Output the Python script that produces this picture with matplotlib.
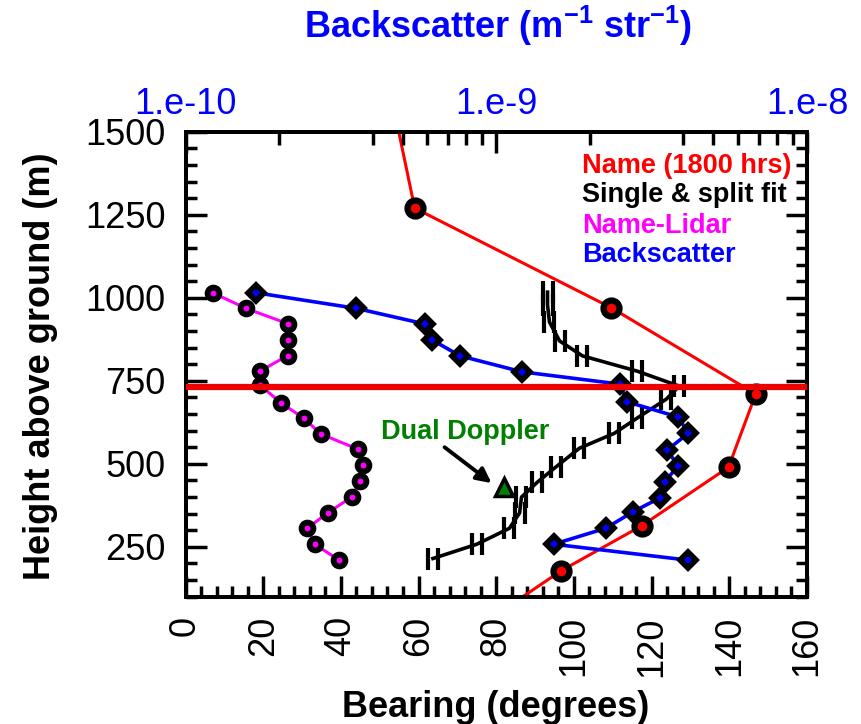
import numpy as np
import matplotlib
matplotlib.use('Agg')
import matplotlib.pyplot as plt
from matplotlib.path import Path
from matplotlib.ticker import FixedLocator, MultipleLocator, FuncFormatter, NullFormatter

plt.rcParams['font.family'] = ['Liberation Sans', 'DejaVu Sans']
plt.rcParams['mathtext.fontset'] = 'custom'
plt.rcParams['mathtext.rm'] = 'Liberation Sans'
plt.rcParams['mathtext.bf'] = 'Liberation Sans:bold'

# Name model at 1800 hrs (bearing in degrees, height in m); end points run off the axes
name_bearing = [54.0, 59.0, 109.6, 146.8, 139.8, 117.5, 96.7, 80.5]
name_height = [1550, 1270, 970, 710, 490, 314, 178, 50]

# single & split fit
fit_bearing = [63.7, 75.0, 83.4, 86.0, 86.5, 90.6, 95.4, 101.4, 110.4, 116.3,
               123.8, 127.1, 116.3, 102.2, 96.3, 93.7, 93.2, 93.2]
fit_height = [215, 258, 306, 352, 400, 445, 491, 547, 592, 638,
              695, 734, 779, 825, 870, 927, 978, 1017]

# Name-Lidar
lidar_bearing = [7.0, 15.6, 26.3, 26.3, 26.3, 19.3, 19.2, 24.5, 30.5, 34.8,
                 44.4, 45.6, 44.9, 42.9, 36.7, 31.3, 33.3, 39.5]
lidar_height = [1015, 968, 922, 873, 826, 780, 737, 684, 637, 590,
                544, 496, 449, 401, 353, 306, 258, 210]

# backscatter (m-1 str-1), top axis
bs_value = [1.69e-10, 3.55e-10, 5.9e-10, 6.22e-10, 7.65e-10, 1.21e-9, 2.50e-9, 2.63e-9,
            3.85e-9, 4.15e-9, 3.54e-9, 3.85e-9, 3.49e-9, 3.37e-9, 2.76e-9, 2.25e-9,
            1.53e-9, 4.15e-9]
bs_height = [1015, 968, 921, 873, 825, 777, 740, 687, 641, 592, 541, 495, 446, 398,
             356, 306, 258, 210]

doppler_bearing = [82.1]
doppler_height = [431]

cloud_top = 730

legend_labels = ['Name (1800 hrs)', 'Single & split fit', 'Name-Lidar', 'Backscatter']
legend_colors = ['#FF0000', 'black', '#FF00FF', '#0000FF']

RED = '#FF0000'
MAGENTA = '#FF00FF'
BLUE = '#0000FF'
GREEN = '#008000'

# double vertical bar marker
hbar = Path([(-0.45, -1), (-0.45, 1), (0.45, -1), (0.45, 1)],
            [Path.MOVETO, Path.LINETO, Path.MOVETO, Path.LINETO])

fig = plt.figure(figsize=(8.61, 7.24), dpi=100)
ax = fig.add_axes([185.5 / 861, 1 - 596.7 / 724, 621.5 / 861, 465 / 724])

ax.plot(lidar_bearing, lidar_height, color=MAGENTA, lw=2.2, marker='o', ms=8.5,
        mfc=MAGENTA, mec='black', mew=4.2, zorder=3)
ax.plot(fit_bearing, fit_height, color='black', lw=2.6, marker=hbar, ms=16,
        mew=3, zorder=4)
ax.plot(name_bearing, name_height, color=RED, lw=2.2, marker='o', ms=11.5,
        mfc=RED, mec='black', mew=4.5, zorder=5,
        markevery=list(range(1, len(name_bearing) - 1)))
ax.plot(doppler_bearing, doppler_height, ls='none', marker='^', ms=13,
        mfc=GREEN, mec='black', mew=2.5, zorder=6)

ax.text(50.3, 574, 'Dual Doppler', color=GREEN, fontsize=19.5, fontweight='bold',
        ha='left', va='baseline')
ax.annotate('', xy=(78.8, 442), xytext=(66.7, 550),
            arrowprops=dict(arrowstyle='-|>', color='black', lw=2.8,
                            mutation_scale=22, shrinkA=0, shrinkB=0))

legend_y = [0.9105, 0.8495, 0.7815, 0.7204]
for lab, col, yy in zip(legend_labels, legend_colors, legend_y):
    ax.text(0.638, yy, lab, color=col, fontsize=19.5, fontweight='bold',
            transform=ax.transAxes, ha='left', va='baseline')

ax.set_xlim(0, 160)
ax.set_ylim(100, 1500)
ax.xaxis.set_major_locator(MultipleLocator(20))
ax.xaxis.set_minor_locator(MultipleLocator(4))
ax.yaxis.set_major_locator(MultipleLocator(250))
ax.yaxis.set_minor_locator(MultipleLocator(50))
ax.tick_params(which='both', direction='in', top=False, bottom=True,
               left=True, right=True, width=2.5)
ax.tick_params(which='major', length=15)
ax.tick_params(which='minor', length=8)
ax.tick_params(axis='x', labelrotation=90, labelsize=26, pad=14)
ax.tick_params(axis='y', labelsize=26, pad=14.5)

ax2 = ax.twiny()
ax2.set_xscale('log')
ax2.set_xlim(1e-10, 1e-8)
ax2.plot(bs_value, bs_height, color=BLUE, lw=2.6, marker='D', ms=8.5,
         mfc=BLUE, mec='black', mew=4, zorder=3)
ax2.axhline(cloud_top, color='#EE0000', lw=4.5, zorder=10)
ax2.xaxis.set_major_locator(FixedLocator([1e-10, 1e-9, 1e-8]))
ax2.xaxis.set_minor_locator(FixedLocator(
    [m * 10.0 ** e for e in (-10, -9) for m in (2, 4, 5, 6, 7, 8, 9)]))
ax2.xaxis.set_major_formatter(FuncFormatter(lambda v, p: '1.e%d' % round(np.log10(v))))
ax2.xaxis.set_minor_formatter(NullFormatter())
ax2.tick_params(axis='x', which='both', direction='in', width=2.5,
                labelsize=26, labelcolor=BLUE, pad=7)
ax2.tick_params(axis='x', which='major', length=15)
ax2.tick_params(axis='x', which='minor', length=9)

for a in (ax, ax2):
    for s in a.spines.values():
        s.set_linewidth(2.8)

fig.text(496 / 861, 1 - 716.7 / 724, 'Bearing (degrees)', fontsize=26,
         fontweight='bold', ha='center', va='baseline')
fig.text(50 / 861, 1 - 366 / 724, 'Height above ground (m)', fontsize=26,
         fontweight='bold', ha='center', va='baseline', rotation=90,
         rotation_mode='anchor')
fig.text(498 / 861, 1 - 38.3 / 724,
         r'Backscatter (m$^{\mathbf{-1}}$ str$^{\mathbf{-1}}$)',
         fontsize=26, fontweight='bold', color=BLUE, ha='center', va='baseline')

fig.savefig('out.png', dpi=100)
